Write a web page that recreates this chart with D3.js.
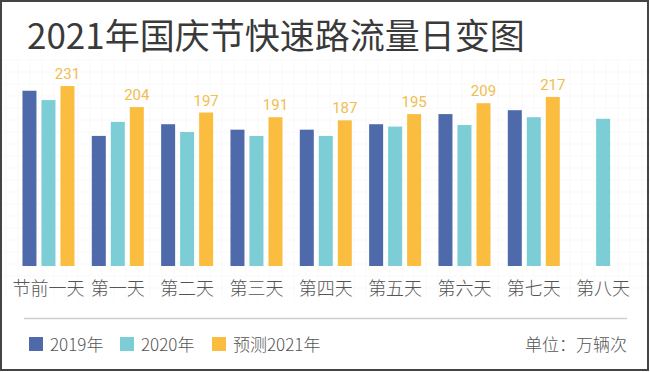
<!DOCTYPE html>
<html>
<head>
<meta charset="utf-8">
<script src="https://cdn.jsdelivr.net/npm/d3@7"></script>
<style>
  body { margin: 0; background: #fff; }
  svg text { font-family: "Noto Sans CJK SC", "Noto Sans", sans-serif; }
</style>
</head>
<body>
<div id="chart"></div>
<script>
// données
const days = ["节前一天", "第一天", "第二天", "第三天", "第四天", "第五天", "第六天", "第七天", "第八天"];
const seriesNames = ["2019年", "2020年", "预测2021年"];
const v2019 = [225, 167, 182, 175, 175, 182, 195, 200, null];
const v2020 = [213, 185, 172, 167, 167, 179, 181, 191, 189];
const v2021 = [231, 204, 197, 191, 187, 195, 209, 217, null];
const colors = ["#4f6aab", "#7dcdd7", "#fbbd40"];

const W = 650, H = 372;

const svg = d3.select("#chart").append("svg")
    .attr("width", W)
    .attr("height", H);

svg.append("rect")
    .attr("width", W).attr("height", H)
    .attr("fill", "#fff");

// grille très légère en fond
const grid = svg.append("g").attr("stroke", "#f9f9f9").attr("stroke-width", 1);
for (let gx = 6; gx < W; gx += 12) {
    grid.append("line").attr("x1", gx).attr("x2", gx).attr("y1", 60).attr("y2", 300);
}
for (let gy = 60; gy < 300; gy += 12) {
    grid.append("line").attr("x1", 0).attr("x2", W).attr("y1", gy).attr("y2", gy);
}

// cadre
svg.append("rect")
    .attr("x", 1).attr("y", 1)
    .attr("width", W - 3).attr("height", H - 3)
    .attr("fill", "none")
    .attr("stroke", "#444")
    .attr("stroke-width", 2);

svg.append("text")
    .attr("x", 27).attr("y", 49)
    .attr("font-size", 35)
    .attr("fill", "#3a3a3a")
    .text("2021年国庆节快速路流量日变图");

const x = d3.scaleBand().domain(days).range([13.8, 637.8]);
const xs = d3.scaleBand().domain(seriesNames).range([-26, 26]).paddingInner(5 / 19);
const y = d3.scaleLinear().domain([0, 300]).range([266, 266 - 0.779 * 300]);

const rows = days.map((d, i) => ({ day: d, vals: [v2019[i], v2020[i], v2021[i]] }));

const groups = svg.append("g")
    .selectAll("g")
    .data(rows)
    .join("g")
    .attr("transform", d => `translate(${x(d.day) + x.bandwidth() / 2},0)`);

groups.selectAll("rect")
    .data(d => d.vals.map((v, k) => ({ name: seriesNames[k], v: v, k: k })).filter(e => e.v != null))
    .join("rect")
    .attr("x", e => xs(e.name))
    .attr("width", xs.bandwidth())
    .attr("y", e => y(e.v))
    .attr("height", e => y(0) - y(e.v))
    .attr("fill", e => colors[e.k]);

groups.filter(d => d.vals[2] != null)
    .append("text")
    .attr("x", xs(seriesNames[2]) + xs.bandwidth() / 2)
    .attr("y", d => y(d.vals[2]) - 7)
    .attr("text-anchor", "middle")
    .attr("font-size", 15)
    .attr("fill", "#f2bd4e")
    .style("font-family", "Roboto, sans-serif")
    .text(d => d.vals[2]);

// étiquettes des jours
svg.append("g")
    .selectAll("text")
    .data(days)
    .join("text")
    .attr("x", d => x(d) + x.bandwidth() / 2)
    .attr("y", 295)
    .attr("text-anchor", "middle")
    .attr("font-size", 18)
    .attr("font-weight", 300)
    .attr("fill", "#555")
    .text(d => d);

svg.append("line")
    .attr("x1", 24).attr("x2", 627)
    .attr("y1", 318.5).attr("y2", 318.5)
    .attr("stroke", "#d0d0d0")
    .attr("stroke-width", 1.5);

// légende
const legendX = [29, 120, 212];
const legend = svg.append("g")
    .selectAll("g")
    .data(seriesNames)
    .join("g")
    .attr("transform", (d, i) => `translate(${legendX[i]},337)`);

legend.append("rect")
    .attr("width", 14).attr("height", 14)
    .attr("fill", (d, i) => colors[i]);

legend.append("text")
    .attr("x", 21).attr("y", 14)
    .attr("font-size", 17)
    .attr("font-weight", 300)
    .attr("fill", "#555")
    .text(d => d);

svg.append("text")
    .attr("x", 627).attr("y", 351)
    .attr("text-anchor", "end")
    .attr("font-size", 17)
    .attr("font-weight", 300)
    .attr("fill", "#555")
    .text("单位：万辆次");
</script>
</body>
</html>
